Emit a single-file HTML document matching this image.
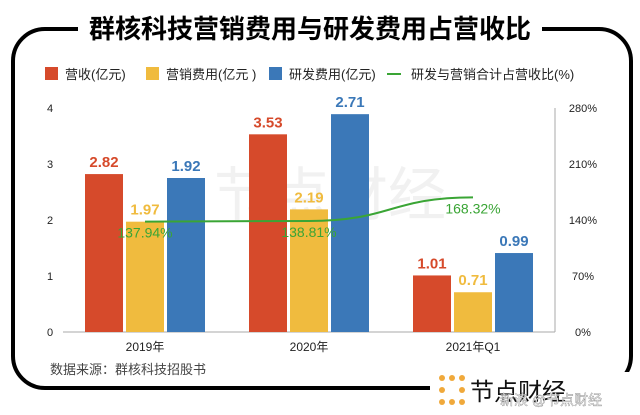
<!DOCTYPE html>
<html><head><meta charset="utf-8"><style>
body{margin:0;background:#fff;}
svg text{font-family:"Liberation Sans","Noto Sans CJK SC",sans-serif;}
</style></head><body>
<svg width="640" height="410" viewBox="0 0 640 410">
<rect x="13" y="29" width="618" height="359" rx="32" fill="none" stroke="#000" stroke-width="4"/>
<rect x="78" y="8" width="464" height="34" fill="#fff"/>
<text x="310" y="38" text-anchor="middle" font-size="26" font-weight="bold" fill="#000">群核科技营销费用与研发费用占营收比</text>
<rect x="430" y="372" width="210" height="38" fill="#fff"/>
<g>
<rect x="45" y="67" width="13" height="13" fill="#d64a2b"/>
<text x="65" y="79" font-size="13" fill="#222">营收(亿元)</text>
<rect x="146" y="67" width="13" height="13" fill="#f0bb3e"/>
<text x="166" y="79" font-size="13" fill="#222">营销费用(亿元 )</text>
<rect x="269" y="67" width="13" height="13" fill="#3b78b8"/>
<text x="289" y="79" font-size="13" fill="#222">研发费用(亿元)</text>
<line x1="387" y1="74" x2="401" y2="74" stroke="#3aa535" stroke-width="2"/>
<text x="411" y="79" font-size="13" fill="#222">研发与营销合计占营收比(%)</text>
</g>
<text x="330" y="215" text-anchor="middle" font-size="58" fill="#f1f1f1">节点财经</text>
<g id="plot"></g>
<text x="50" y="374" font-size="13" fill="#444">数据来源：群核科技招股书</text>
<g>
<g fill="#f0a93b">
<circle cx="442" cy="378" r="3"/><circle cx="452" cy="378" r="3"/><circle cx="462" cy="378" r="3"/>
<circle cx="442" cy="390" r="3"/><circle cx="462" cy="390" r="3"/>
<circle cx="442" cy="402" r="3"/><circle cx="452" cy="402" r="3"/><circle cx="462" cy="402" r="3"/>
</g>
<text x="470" y="400" font-size="24" fill="#111">节点财经</text>
<text x="500" y="405" font-size="14" fill="#fff" stroke="#888" stroke-width="0.4">新浪 @节点财经</text>
</g>
</svg>
<script>
const categories=["2019年","2020年","2021年Q1"];
const revenue=[2.82,3.53,1.01];
const marketing=[1.97,2.19,0.71];
const rndLabels=[1.92,2.71,0.99];
const rndBars=[2.75,3.89,1.41];
const ratio=[137.94,138.81,168.32];
const leftTicks=[0,1,2,3,4];
const rightTicks=[0,70,140,210,280];
const NS="http://www.w3.org/2000/svg";
const g=document.getElementById('plot');
const X0=63,X1=555,Y0=332,Y1=108;
const yL=v=>Y0-(v/4)*(Y0-Y1);
const yR=v=>Y0-(v/280)*(Y0-Y1);
const bw=(X1-X0)/categories.length;
const cx=i=>X0+bw*(i+0.5);
function el(t,a,txt){const e=document.createElementNS(NS,t);for(const k in a)e.setAttribute(k,a[k]);if(txt!=null)e.textContent=txt;g.appendChild(e);return e;}
leftTicks.forEach(v=>{const t=el('text',{x:50,y:yL(v)+4,'font-size':11,fill:'#222','text-anchor':'middle'},v);

});
rightTicks.forEach(v=>{const t=el('text',{x:583,y:yR(v)+4,'font-size':11,fill:'#222','text-anchor':'middle'},v+'%');

});
const ax=el('line',{x1:X0,y1:Y0,x2:X1,y2:Y0,stroke:'#aaa','stroke-width':1});


const ra=el('line',{x1:X1,y1:Y1,x2:X1,y2:Y0,stroke:'#aaa','stroke-width':1});


const series=[[revenue,revenue,'#d64a2b','bar-revenue'],[marketing,marketing,'#f0bb3e','bar-marketing'],[rndBars,rndLabels,'#3b78b8','bar-rnd']];
const w=38,gap=3;
categories.forEach((c,i)=>{
 series.forEach((s,j)=>{
  const x=cx(i)+(j-1)*(w+gap)-w/2;const y=yL(s[0][i]);
  const r=el('rect',{x:x,y:y,width:w,height:Y0-y,fill:s[2]});
  
  
  const t=el('text',{x:x+w/2,y:y-7,'font-size':15,'font-weight':'bold',fill:s[2],'text-anchor':'middle'},s[1][i].toFixed(2));
  
  
 });
 const t=el('text',{x:cx(i),y:351,'font-size':12,fill:'#222','text-anchor':'middle'},c);
 
 
});
const pts=ratio.map((v,i)=>[cx(i),yR(v)]);
let d='M'+pts[0][0]+','+pts[0][1];
for(let i=1;i<pts.length;i++){const p=pts[i-1],q=pts[i],dx=(q[0]-p[0])/2;
 d+=' C'+(p[0]+dx)+','+p[1]+' '+(q[0]-dx)+','+q[1]+' '+q[0]+','+q[1];}
const ln=el('path',{d:d,fill:'none',stroke:'#3aa535','stroke-width':2});


ratio.forEach((v,i)=>{const t=el('text',{x:cx(i),y:yR(v)+16,'font-size':14,fill:'#3aa535','text-anchor':'middle'},v.toFixed(2)+'%');

});
</script>
</body></html>
